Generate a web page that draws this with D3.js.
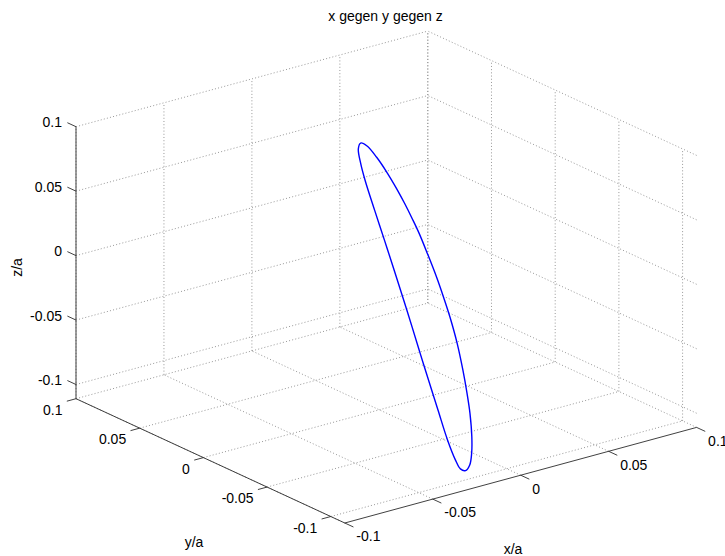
<!DOCTYPE html>
<html>
<head>
<meta charset="utf-8">
<script src="https://cdn.jsdelivr.net/npm/d3@7"></script>
<style>
  html, body { margin: 0; padding: 0; background: #ffffff; }
  svg { display: block; }
  text { font-family: "Liberation Sans", Arial, Helvetica, sans-serif; font-size: 14px; fill: #000; }
</style>
</head>
<body>
<svg id="chart" width="725" height="556"></svg>
<script>
// ---------------- data ----------------
const titleText = "x gegen y gegen z";
const xLabel = "x/a", yLabel = "y/a", zLabel = "z/a";

const xLim = [-0.1, 0.1];
const yLim = [-0.111, 0.1];
const zLim = [-0.111, 0.1];

const xTicks = [-0.1, -0.05, 0, 0.05, 0.1];
const yTicks = [-0.1, -0.05, 0, 0.05, 0.1];
const zTicks = [-0.1, -0.05, 0, 0.05, 0.1];
const xTickLabels = ["-0.1", "-0.05", "0", "0.05", "0.1"];
const yTickLabels = ["-0.1", "-0.05", "0", "0.05", "0.1"];
const zTickLabels = ["-0.1", "-0.05", "0", "0.05", "0.1"];

// closed orbit (x/a, y/a, z/a)
const curveX = [0.0330, 0.0357, 0.0374, 0.0382, 0.0383, 0.0379, 0.0372, 0.0362, 0.0342, 0.0316,
                0.0287, 0.0259, 0.0212, 0.0156, 0.0102, 0.0052, -0.0015, -0.0071, -0.0121, -0.0164,
                -0.0187, -0.0186, -0.0164, -0.0119, -0.0070, -0.0031, 0.0010, 0.0055, 0.0097, 0.0142,
                0.0186, 0.0231, 0.0262, 0.0298];
const curveY = [0.0602, 0.0589, 0.0537, 0.0468, 0.0392, 0.0323, 0.0255, 0.0187, 0.0094, -0.0013,
                -0.0112, -0.0197, -0.0319, -0.0441, -0.0548, -0.0640, -0.0747, -0.0823, -0.0877, -0.0903,
                -0.0895, -0.0854, -0.0762, -0.0625, -0.0478, -0.0363, -0.0244, -0.0111, 0.0017, 0.0155,
                0.0293, 0.0430, 0.0507, 0.0576];
const curveZ = [0.0562, 0.0535, 0.0465, 0.0377, 0.0283, 0.0200, 0.0118, 0.0039, -0.0069, -0.0191,
                -0.0303, -0.0396, -0.0529, -0.0659, -0.0770, -0.0864, -0.0972, -0.1044, -0.1092, -0.1108,
                -0.1090, -0.1039, -0.0935, -0.0782, -0.0619, -0.0493, -0.0361, -0.0214, -0.0071, 0.0081,
                0.0234, 0.0387, 0.0469, 0.0541];

// ---------------- projection (MATLAB-like 3D view) ----------------
const origin = [344.8, 523.0];   // screen position of (xmin, ymin, zmin)
const Xv = [351.8, -95.6];       // screen vector spanning the x range
const Yv = [-268.8, -124.3];     // screen vector spanning the y range
const Zv = [0, -272.0];          // screen vector spanning the z range

const su = d3.scaleLinear().domain(xLim).range([0, 1]);
const sv = d3.scaleLinear().domain(yLim).range([0, 1]);
const sw = d3.scaleLinear().domain(zLim).range([0, 1]);

function P(x, y, z) {
  const u = su(x), v = sv(y), w = sw(z);
  return [origin[0] + u * Xv[0] + v * Yv[0] + w * Zv[0],
          origin[1] + u * Xv[1] + v * Yv[1] + w * Zv[1]];
}
function unit(vec) { const l = Math.hypot(vec[0], vec[1]); return [vec[0] / l, vec[1] / l]; }

const svg = d3.select("#chart");
const gGrid = svg.append("g");
const gAxes = svg.append("g");
const gData = svg.append("g");
const gText = svg.append("g");

const x0 = xLim[0], x1 = xLim[1], y0 = yLim[0], y1 = yLim[1], z0 = zLim[0], z1 = zLim[1];

// ---------------- grid lines (dotted) on the three back planes ----------------
const segs = [];
// left wall y = ymax
xTicks.forEach(t => segs.push([P(t, y1, z0), P(t, y1, z1)]));
zTicks.forEach(t => segs.push([P(x0, y1, t), P(x1, y1, t)]));
// right wall x = xmax
yTicks.forEach(t => segs.push([P(x1, t, z0), P(x1, t, z1)]));
zTicks.forEach(t => segs.push([P(x1, y0, t), P(x1, y1, t)]));
// floor z = zmin
xTicks.forEach(t => segs.push([P(t, y0, z0), P(t, y1, z0)]));
yTicks.forEach(t => segs.push([P(x0, t, z0), P(x1, t, z0)]));

gGrid.selectAll("line").data(segs).join("line")
  .attr("x1", d => d[0][0]).attr("y1", d => d[0][1])
  .attr("x2", d => d[1][0]).attr("y2", d => d[1][1])
  .attr("stroke", "#8c8c8c")
  .attr("stroke-width", 0.9)
  .attr("stroke-dasharray", "1,2.2");

// ---------------- axis lines ----------------
const axisColor = "#2b2b2b";
const axes = [
  [P(x0, y1, z0), P(x0, y1, z1)],   // z axis
  [P(x0, y0, z0), P(x0, y1, z0)],   // y axis
  [P(x0, y0, z0), P(x1, y0, z0)]    // x axis
];
gAxes.selectAll("line.ax").data(axes).join("line").attr("class", "ax")
  .attr("x1", d => d[0][0]).attr("y1", d => d[0][1])
  .attr("x2", d => d[1][0]).attr("y2", d => d[1][1])
  .attr("stroke", axisColor).attr("stroke-width", 0.9);

const tickLen = 9.5;
const dirZ = unit(Yv);                   // z ticks point towards +y
const dirY = unit([-Xv[0], -Xv[1]]);     // y ticks point towards -x
const dirX = unit([-Yv[0], -Yv[1]]);     // x ticks point towards -y

const ticks = [];
zTicks.forEach((t, i) => { const p = P(x0, y1, t); ticks.push({p, d: dirZ, lab: zTickLabels[i], ax: "z"}); });
yTicks.forEach((t, i) => { const p = P(x0, t, z0); ticks.push({p, d: dirY, lab: yTickLabels[i], ax: "y"}); });
xTicks.forEach((t, i) => { const p = P(t, y0, z0); ticks.push({p, d: dirX, lab: xTickLabels[i], ax: "x"}); });

gAxes.selectAll("line.tk").data(ticks).join("line").attr("class", "tk")
  .attr("x1", d => d.p[0]).attr("y1", d => d.p[1])
  .attr("x2", d => d.p[0] + d.d[0] * tickLen).attr("y2", d => d.p[1] + d.d[1] * tickLen)
  .attr("stroke", axisColor).attr("stroke-width", 0.9);

// tick labels
gText.selectAll("text.tl").data(ticks).join("text").attr("class", "tl")
  .attr("text-anchor", d => d.ax === "x" ? "start" : "end")
  .attr("x", d => d.ax === "z" ? d.p[0] - 14 : d.ax === "y" ? d.p[0] - 13.5 : d.p[0] + 11.5)
  .attr("y", d => (d.ax === "z" ? d.p[1] - 4.5 : d.ax === "y" ? d.p[1] + 11 : d.p[1] + 13.3) + 5)
  .text(d => d.lab);

// ---------------- data curve ----------------
const pts = curveX.map((x, i) => P(x, curveY[i], curveZ[i]));
gData.append("path")
  .attr("d", d3.line().curve(d3.curveCatmullRomClosed.alpha(0.5))(pts))
  .attr("fill", "none")
  .attr("stroke", "#0000ff")
  .attr("stroke-width", 1.4);

// ---------------- title and axis labels ----------------
gText.append("text").attr("x", 385.5).attr("y", 20.5).attr("text-anchor", "middle").text(titleText);
gText.append("text").attr("x", 513).attr("y", 553.5).attr("text-anchor", "middle").text(xLabel);
gText.append("text").attr("x", 194).attr("y", 547).attr("text-anchor", "middle").text(yLabel);
gText.append("text").attr("transform", "translate(22,267.5) rotate(-90)").attr("text-anchor", "middle").text(zLabel);
</script>
</body>
</html>
